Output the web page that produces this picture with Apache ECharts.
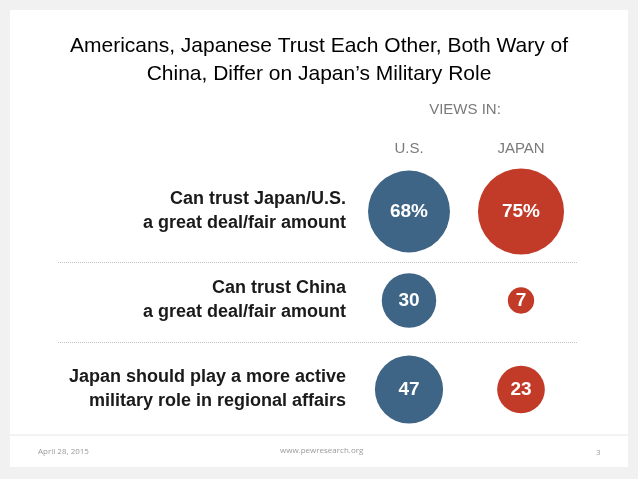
<!DOCTYPE html>
<html>
<head>
<meta charset="utf-8">
<script src="https://cdn.jsdelivr.net/npm/echarts@6/dist/echarts.min.js"></script>
<style>
  html, body { margin: 0; padding: 0; background: #f1f1f1; }
  #chart { width: 638px; height: 479px; }
</style>
</head>
<body>
<div id="chart"></div>
<script>
  const countries = ['U.S.', 'JAPAN'];
  const questions = [
    'Can trust Japan/U.S.\na great deal/fair amount',
    'Can trust China\na great deal/fair amount',
    'Japan should play a more active\nmilitary role in regional affairs'
  ];
  const usValues = [68, 30, 47];
  const japanValues = [75, 7, 23];
  const valueSuffix = ['%', '', ''];

  const colors = ['#3e6486', '#c23a28'];
  const font = '"Liberation Sans", Arial, sans-serif';

  const chart = echarts.init(document.getElementById('chart'));

  // bubble area proportional to the value
  const bubbleSize = d => 9.94 * Math.sqrt(d[2]);

  const makeSeries = (name, values, color) => ({
    name: name,
    type: 'scatter',
    xAxisIndex: 0,
    yAxisIndex: 0,
    data: values.map((v, i) => [name, questions[i], v]),
    symbolSize: bubbleSize,
    itemStyle: { color: color, opacity: 1 },
    label: {
      show: true,
      position: 'inside',
      color: '#fff',
      fontFamily: font,
      fontWeight: 'bold',
      fontSize: 19,
      formatter: p => p.value[2] + valueSuffix[p.dataIndex]
    },
    emphasis: { disabled: true }
  });

  const option = {
    backgroundColor: '#f1f1f1',
    animation: false,
    title: {
      text: 'Americans, Japanese Trust Each Other, Both Wary of\nChina, Differ on Japan\u2019s Military Role',
      left: 'center',
      top: 27,
      textStyle: {
        fontFamily: font,
        fontWeight: 'normal',
        fontSize: 21,
        lineHeight: 28,
        color: '#000'
      }
    },
    graphic: [
      {
        type: 'rect',
        z: -10,
        shape: { x: 10, y: 10, width: 618, height: 457 },
        style: { fill: '#fff' },
        silent: true
      },
      {
        type: 'line',
        z: -5,
        shape: { x1: 10, y1: 435, x2: 628, y2: 435 },
        style: { stroke: '#e6e6e6', lineWidth: 1 },
        silent: true
      },
      {
        type: 'text',
        left: 38, top: 448,
        style: { text: 'April 28, 2015', fill: '#9a9a9a', font: '8px "Open Sans", sans-serif' }
      },
      {
        type: 'text',
        left: 280, top: 447,
        style: { text: 'www.pewresearch.org', fill: '#9a9a9a', font: '8px "Open Sans", sans-serif' }
      },
      {
        type: 'text',
        left: 596, top: 449,
        style: { text: '3', fill: '#9a9a9a', font: '8px "Open Sans", sans-serif' }
      }
    ],
    grid: [
      { left: 353, right: 61, top: 167, bottom: 45 },
      { left: 58, right: 60, top: 182, bottom: 57 }
    ],
    xAxis: [
      {
        gridIndex: 0,
        type: 'category',
        position: 'top',
        data: countries,
        name: 'VIEWS IN:',
        nameLocation: 'middle',
        nameGap: 50,
        nameTextStyle: { color: '#7a7a7a', fontFamily: font, fontSize: 15 },
        axisLine: { show: false },
        axisTick: { show: false },
        axisLabel: { color: '#7a7a7a', fontFamily: font, fontSize: 15, margin: 11 }
      },
      {
        gridIndex: 1,
        type: 'value',
        min: 0,
        max: 1,
        show: false
      }
    ],
    yAxis: [
      {
        gridIndex: 0,
        type: 'category',
        inverse: true,
        data: questions,
        axisLine: { show: false },
        axisTick: { show: false },
        splitLine: { show: false },
        axisLabel: {
          color: '#1a1a1a',
          fontFamily: font,
          fontWeight: 'bold',
          fontSize: 18,
          lineHeight: 24,
          align: 'right',
          margin: 7
        }
      },
      {
        // separators between the rows only
        gridIndex: 1,
        type: 'category',
        inverse: true,
        data: questions,
        axisLine: { show: false },
        axisTick: { show: false },
        axisLabel: { show: false },
        splitLine: {
          show: true,
          lineStyle: {
            type: 'dotted',
            width: 1,
            color: ['rgba(0,0,0,0)', '#c4c4c4', '#c4c4c4']
          }
        }
      }
    ],
    series: [
      makeSeries(countries[0], usValues, colors[0]),
      makeSeries(countries[1], japanValues, colors[1])
    ]
  };

  chart.setOption(option);
</script>
</body>
</html>
